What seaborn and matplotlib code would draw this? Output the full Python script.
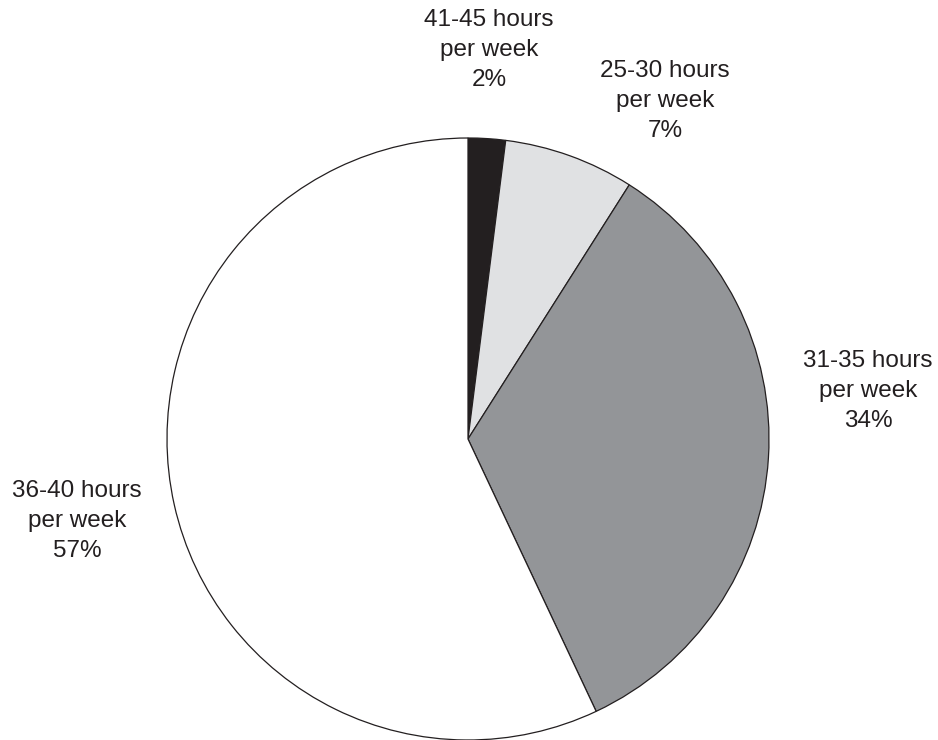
import matplotlib
matplotlib.use("Agg")
import matplotlib.pyplot as plt
import seaborn as sns

# data
categories = ['41-45 hours\nper week', '25-30 hours\nper week',
              '31-35 hours\nper week', '36-40 hours\nper week']
shares = [2, 7, 34, 57]
colors = ['#231f20', '#e0e1e3', '#939598', '#ffffff']

# label centres in pixel coordinates (x, y from top)
label_pos = [(489, 50), (665, 101), (868, 391), (77, 521)]

sns.set_theme(style='white')
plt.rcParams['font.family'] = ['Liberation Sans', 'DejaVu Sans']

W, H = 938, 740
fig = plt.figure(figsize=(W / 100, H / 100), dpi=100)
ax = fig.add_axes([0, 0, 1, 1])

wedges, _ = ax.pie(
    shares,
    colors=colors,
    startangle=90,
    counterclock=False,
    center=(468, H - 439),
    radius=301,
    wedgeprops=dict(edgecolor='#231f20', linewidth=0.9),
    frame=True,
)
ax.set_xlim(0, W)
ax.set_ylim(0, H)
ax.set_aspect('equal')
ax.axis('off')

for cat, val, (px, py) in zip(categories, shares, label_pos):
    ax.text(px, H - py, f'{cat}\n{val}%', ha='center', va='center',
            multialignment='center', fontsize=17.5, color='#231f20',
            linespacing=1.45)

fig.savefig('out.png', dpi=100, facecolor='white')
